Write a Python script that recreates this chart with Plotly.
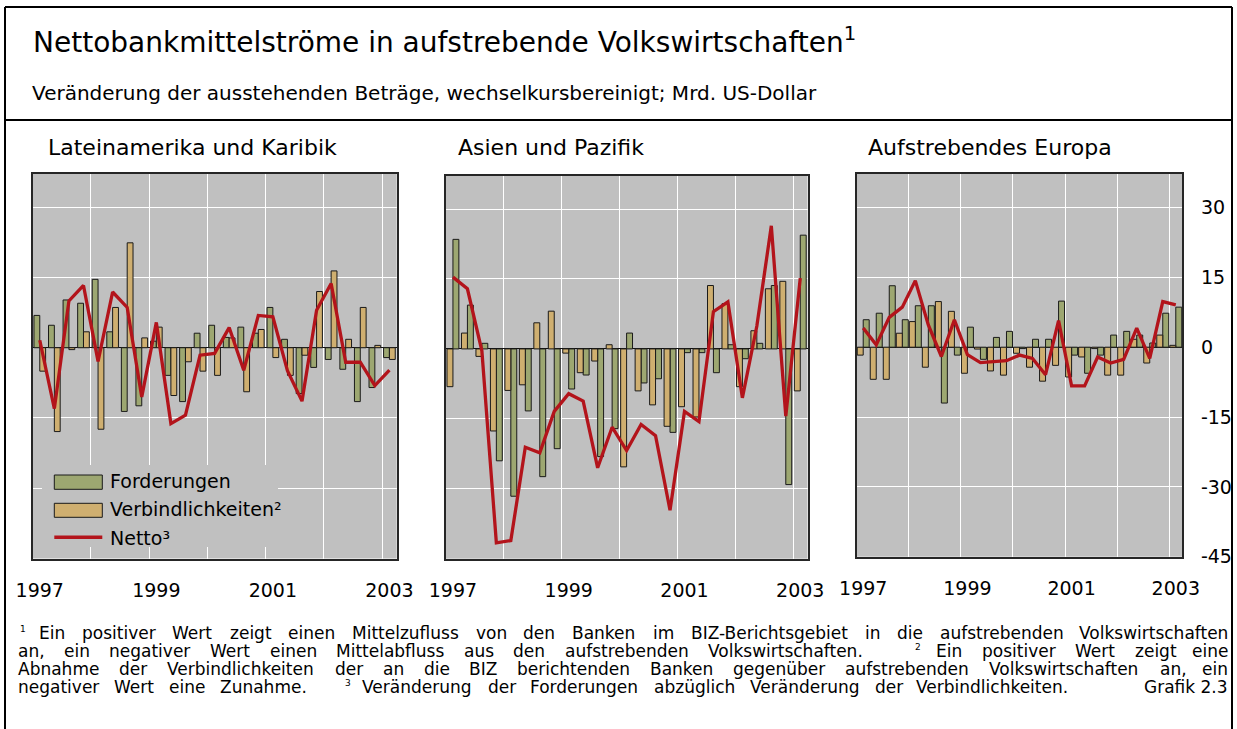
import plotly.graph_objects as go

# ---------------- data (quarterly, 1997 Q1 - 2003 Q1) ----------------
quarters = [f"{y} Q{q}" for y in range(1997, 2004) for q in range(1, 5)][:25]
tick_pos = [0, 8, 16, 24]
tick_text = ["1997", "1999", "2001", "2003"]
y_ticks = [-45, -30, -15, 0, 15, 30]
y_tick_text = [str(v) for v in y_ticks]

la_ford = [6.9, 4.8, 10.2, 9.5, 14.6, 3.4, -13.6, -12.4, 1.4, -5.9, -11.5, 3.1, 4.8,
           2.2, 4.4, 3.1, 8.6, 1.8, -9.8, -4.2, -2.5, -4.6, -11.5, -8.5, -2.1]
la_verb = [-5.0, -17.9, -0.4, 3.4, -17.4, 8.6, 22.4, 2.1, 4.4, -10.2, -3.0, -5.0, -5.9,
           2.1, -9.4, 3.9, -2.1, -5.9, -1.6, 12.0, 16.4, 1.8, 8.6, 0.5, -2.5]
la_net = [1.6, -13.0, 10.0, 13.3, -2.9, 11.9, 8.6, -10.5, 5.4, -16.2, -14.4, -1.6, -1.2,
          4.3, -4.8, 6.9, 6.6, -4.9, -11.4, 8.0, 13.7, -3.1, -3.1, -8.1, -4.8]

as_ford = [23.5, 9.4, 1.2, -24.0, -31.6, -13.3, -27.4, -21.4, -8.6, -5.6, -23.1, -17.1, 3.4,
           -7.3, -6.4, -17.9, -0.8, -0.8, -5.1, 0.9, -2.1, 1.2, 13.6, -29.1, 24.4]
as_verb = [-8.1, 3.4, -1.6, -17.6, -8.9, -7.7, 5.6, 8.1, -0.9, -5.1, -2.6, 0.9, -25.3,
           -9.0, -12.0, -16.6, -12.4, -14.6, 13.6, 9.7, -8.1, 3.9, 12.9, 14.5, -9.0]
as_net = [15.4, 12.9, -0.4, -41.6, -41.1, -21.1, -22.3, -13.4, -9.6, -11.2, -25.5, -16.8, -21.8,
          -16.2, -18.6, -34.6, -13.4, -15.6, 8.0, 10.1, -10.5, 4.9, 26.4, -14.4, 15.2]

eu_ford = [5.9, 7.3, 13.2, 5.9, 8.9, 8.9, -12.0, -1.7, 4.3, -2.6, 2.1, 3.4, -0.3,
           1.7, 1.7, 9.9, -1.7, -5.6, -1.7, 2.6, 3.4, 2.6, 0.9, 7.3, 8.6]
eu_verb = [-1.7, -6.9, -6.9, 3.0, 5.5, -4.3, 9.8, 7.7, -5.6, -0.4, -5.1, -6.0, -1.3,
           -4.3, -7.3, -3.9, -6.4, -2.1, -0.3, -6.0, -6.0, 1.7, -3.4, 2.6, 0.4]
eu_net = [4.1, 0.5, 6.4, 8.6, 14.3, 4.8, -2.0, 5.9, -1.6, -3.3, -3.1, -2.9, -1.7,
          -2.4, -5.9, 5.7, -8.3, -8.3, -2.1, -3.4, -2.6, 4.1, -2.4, 9.8, 9.1]

panel_titles = ["Lateinamerika und Karibik", "Asien und Pazifik", "Aufstrebendes Europa"]
legend_labels = ["Forderungen", "Verbindlichkeiten²", "Netto³"]

# ---------------- style ----------------
W, H = 1237, 729
FONT = "DejaVu Sans"
GREEN = "#9DA771"
TAN = "#CFAF70"
RED = "#B3141B"
BG = "#C0C0C0"
EDGE = "#1a1a1a"


def px(x):
    return x / W


def py(y):
    return 1 - y / H


x_idx = list(range(len(quarters)))

panels = [
    dict(ford=la_ford, verb=la_verb, net=la_net, xd=(32.5, 396.7), yd=(173.5, 558.5),
         bw=0.40, green_left=True, title_x=46),
    dict(ford=as_ford, verb=as_verb, net=as_net, xd=(445.7, 807.5), yd=(175.5, 558.7),
         bw=0.41, green_left=False, title_x=456),
    dict(ford=eu_ford, verb=eu_verb, net=eu_net, xd=(856.7, 1182.3), yd=(174.0, 556.7),
         bw=0.46, green_left=False, title_x=866),
]

fig = go.Figure()
layout = dict(
    width=W, height=H, margin=dict(l=0, r=0, t=0, b=0, pad=0), autosize=False,
    paper_bgcolor="white", plot_bgcolor=BG, showlegend=False,
    font=dict(family=FONT, color="black"),
    barmode="overlay",
)

annotations = []
shapes = []

for i, p in enumerate(panels, start=1):
    xa = "x" if i == 1 else f"x{i}"
    ya = "y" if i == 1 else f"y{i}"
    bw = p["bw"]
    g_off = -bw if p["green_left"] else 0.0
    t_off = 0.0 if p["green_left"] else -bw
    fig.add_trace(go.Bar(x=x_idx, y=p["ford"], width=bw, offset=g_off,
                         marker=dict(color=GREEN, line=dict(color=EDGE, width=1)),
                         name=legend_labels[0], xaxis=xa, yaxis=ya))
    fig.add_trace(go.Bar(x=x_idx, y=p["verb"], width=bw, offset=t_off,
                         marker=dict(color=TAN, line=dict(color=EDGE, width=1)),
                         name=legend_labels[1], xaxis=xa, yaxis=ya))
    fig.add_trace(go.Scatter(x=x_idx, y=p["net"], mode="lines",
                             line=dict(color=RED, width=3.3),
                             name=legend_labels[2], xaxis=xa, yaxis=ya))
    xkey = "xaxis" if i == 1 else f"xaxis{i}"
    ykey = "yaxis" if i == 1 else f"yaxis{i}"
    layout[xkey] = dict(
        domain=[px(p["xd"][0]), px(p["xd"][1])], anchor=ya, automargin=False,
        range=[-0.5, len(quarters) - 0.5],
        tickmode="array", tickvals=tick_pos, ticktext=tick_text,
        showgrid=False, zeroline=False, ticks="", ticklabelstandoff=14,
        tickfont=dict(size=19, family=FONT, color="black"),
        minor=dict(tickmode="linear", tick0=3.5, dtick=4, showgrid=True,
                   gridcolor="white", gridwidth=1.3, ticks=""),
        showline=True, mirror=True, linecolor="#262626", linewidth=1.6,
    )
    layout[ykey] = dict(
        domain=[py(p["yd"][1]), py(p["yd"][0])], anchor=xa, automargin=False,
        range=[-45, 37.2], tickmode="array", tickvals=y_ticks, ticktext=y_tick_text,
        showgrid=True, gridcolor="white", gridwidth=1.4,
        zeroline=True, zerolinecolor="#111111", zerolinewidth=1.4,
        showline=True, mirror=True, linecolor="#262626", linewidth=1.6,
        ticks="", showticklabels=(i == 3), side="right", ticklabelstandoff=13,
        tickfont=dict(size=19, family=FONT, color="black"),
    )
    annotations.append(dict(xref="paper", yref="paper", x=px(p["title_x"]), y=py(147.5),
                            xanchor="left", yanchor="middle", showarrow=False,
                            text=panel_titles[i - 1], font=dict(size=22, family=FONT)))

# ---------------- frame ----------------
for (x0, y0, x1, y1) in [(5, 7, 1232, 7), (5, 7, 5, 729), (1232, 7, 1232, 729), (5, 120, 1232, 120)]:
    shapes.append(dict(type="line", xref="paper", yref="paper", x0=px(x0), y0=py(y0),
                       x1=px(x1), y1=py(y1), line=dict(color="black", width=2)))

# ---------------- titles ----------------
annotations.append(dict(xref="paper", yref="paper", x=px(31), y=py(40), xanchor="left",
                        yanchor="middle", showarrow=False,
                        text="Nettobankmittelströme in aufstrebende Volkswirtschaften<sup>1</sup>",
                        font=dict(size=28, family=FONT)))
annotations.append(dict(xref="paper", yref="paper", x=px(30), y=py(93.5), xanchor="left",
                        yanchor="middle", showarrow=False,
                        text="Veränderung der ausstehenden Beträge, wechselkursbereinigt; Mrd. US-Dollar",
                        font=dict(size=20, family=FONT)))

# ---------------- legend (panel 1) ----------------
shapes.append(dict(type="rect", xref="paper", yref="paper", x0=px(42), x1=px(278),
                   y0=py(547), y1=py(465), fillcolor=BG, line=dict(width=0), layer="above"))
shapes.append(dict(type="rect", xref="paper", yref="paper", x0=px(54.3), x1=px(102.3),
                   y0=py(489.3), y1=py(475), fillcolor=GREEN, line=dict(color=EDGE, width=1),
                   layer="above"))
shapes.append(dict(type="rect", xref="paper", yref="paper", x0=px(54.3), x1=px(102.3),
                   y0=py(517.3), y1=py(503.3), fillcolor=TAN, line=dict(color=EDGE, width=1),
                   layer="above"))
shapes.append(dict(type="line", xref="paper", yref="paper", x0=px(54.3), x1=px(102.3),
                   y0=py(537.3), y1=py(537.3), line=dict(color=RED, width=3.5), layer="above"))
for lbl, yc in zip(legend_labels, [480.5, 509.5, 537.5]):
    annotations.append(dict(xref="paper", yref="paper", x=px(107.5), y=py(yc), xanchor="left",
                            yanchor="middle", showarrow=False, text=lbl,
                            font=dict(size=19, family=FONT)))

# ---------------- footnotes ----------------
DV = {' ': 651, 'a': 1255, 'b': 1300, 'c': 1126, 'd': 1300, 'e': 1260, 'f': 721, 'g': 1300,
      'h': 1298, 'i': 569, 'j': 569, 'k': 1186, 'l': 569, 'm': 1995, 'n': 1298, 'o': 1253,
      'p': 1300, 'q': 1300, 'r': 842, 's': 1067, 't': 803, 'u': 1298, 'v': 1212, 'w': 1675,
      'x': 1212, 'y': 1212, 'z': 1075, 'ä': 1255, 'ö': 1253, 'ü': 1298,
      'A': 1401, 'B': 1405, 'C': 1430, 'D': 1577, 'E': 1294, 'F': 1178, 'G': 1587, 'H': 1540,
      'I': 604, 'J': 604, 'K': 1343, 'L': 1141, 'M': 1767, 'N': 1532, 'O': 1612, 'P': 1235,
      'R': 1423, 'S': 1300, 'T': 1251, 'U': 1499, 'V': 1401, 'W': 2025, 'Z': 1403,
      ',': 651, '.': 651, '-': 739, ';': 690}
FN = 17
SUP = 9
RAISE = 4.5


def tw(s, size):
    return sum(DV.get(c, 1303) for c in s) / 2048 * size


def place(tokens, x0, x1, yc):
    # tokens: list of (text, is_sup); spread between x0 and x1 (justified)
    widths = [tw(t, SUP if s else FN) for t, s in tokens]
    weights = []
    for k in range(1, len(tokens)):
        if tokens[k][1]:
            weights.append(2.6)
        elif tokens[k - 1][1]:
            weights.append(0.8)
        else:
            weights.append(1.0)
    unit = ((x1 - x0) - sum(widths)) / sum(weights)
    x = x0
    for k, (t, s) in enumerate(tokens):
        last = k == len(tokens) - 1
        annotations.append(dict(
            xref="paper", yref="paper",
            x=px(x1 if last else x), y=py(yc - RAISE if s else yc),
            xanchor="right" if last else "left", yanchor="middle", showarrow=False,
            text=t, font=dict(size=SUP if s else FN, family=FONT)))
        if not last:
            x += widths[k] + unit * weights[k]


def words(s):
    return [(w, False) for w in s.split()]


L1, L2, L3, L4 = 633, 651, 669, 687
place([("1", True)] + words("Ein positiver Wert zeigt einen Mittelzufluss von den Banken im "
                            "BIZ-Berichtsgebiet in die aufstrebenden Volkswirtschaften"),
      18, 1230, L1)
place(words("an, ein negativer Wert einen Mittelabfluss aus den aufstrebenden "
            "Volkswirtschaften.") + [("2", True)] + words("Ein positiver Wert zeigt eine"),
      16, 1230, L2)
place(words("Abnahme der Verbindlichkeiten der an die BIZ berichtenden Banken gegenüber "
            "aufstrebenden Volkswirtschaften an, ein"), 16, 1230, L3)
place(words("negativer Wert eine Zunahme.") + [("3", True)] +
      words("Veränderung der Forderungen abzüglich Veränderung der Verbindlichkeiten."),
      16, 1070, L4)
annotations.append(dict(xref="paper", yref="paper", x=px(1230), y=py(L4), xanchor="right",
                        yanchor="middle", showarrow=False, text="Grafik 2.3",
                        font=dict(size=FN, family=FONT)))

layout["annotations"] = annotations
layout["shapes"] = shapes
fig.update_layout(**layout)

fig.write_html("out.html", config={"displayModeBar": False},
               post_script="document.body.style.margin='0';")
